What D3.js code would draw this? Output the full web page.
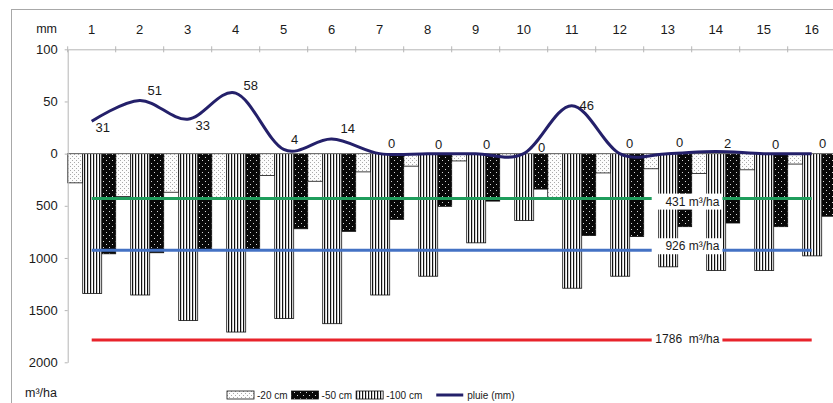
<!DOCTYPE html>
<html><head><meta charset="utf-8">
<script src="https://cdn.jsdelivr.net/npm/d3@7"></script>
<style>
body{margin:0;background:#fff}
svg{display:block}
text{font-family:"Liberation Sans",Arial,sans-serif;fill:#1a1a1a}
</style>
</head><body>
<svg id="c" width="833" height="403"></svg>
<script>
// ---- data ----
const categories = ["1","2","3","4","5","6","7","8","9","10","11","12","13","14","15","16"];
const rainMM  = [31, 51, 33, 58, 4, 14, 0, 0, 0, 0, 46, 0, 0, 2, 0, 0];
const loss20  = [280, 410, 370, 420, 210, 265, 175, 120, 70, 25, 420, 185, 145, 190, 155, 100];
const loss50  = [960, 950, 920, 920, 720, 745, 630, 505, 455, 340, 785, 795, 700, 665, 700, 600];
const loss100 = [1340, 1355, 1600, 1710, 1580, 1630, 1355, 1175, 855, 640, 1290, 1175, 1085, 1120, 1120, 980];
const leftTickValues = [100, 50, 0, -50, -100, -150, -200];
const leftTickLabels = ["100", "50", "0", "500", "1000", "1500", "2000"];
const thresholds = [431, 926, 1786];
const thresholdLabels = ["431 m³/ha", "926 m³/ha", "1786\u00a0\u00a0m³/ha"];
const seriesNames = ["-20 cm", "-50 cm", "-100 cm"];
const lineName = "pluie (mm)";

// ---- layout / style ----
const rainLabelOffset = [[11,6],[15,-10],[15,6],[15,-8],[11,-10],[16,-11],[12,-10],[11,-9],[11,-9],[18,-6],[15,0],[10,-10],[12,-11],[12,-8],[12,-9],[11,-10]];
const thresholdColors = ["#1f9d5c", "#4472c4", "#e8232b"];
const thresholdLabelDy = [3, -4, -1];
const barSlots = { "-20 cm": [0, 15/48], "-100 cm": [15/48, 19/48], "-50 cm": [34/48, 14/48] };
const seriesFill = { "-20 cm": "url(#pDot)", "-50 cm": "url(#pBlack)", "-100 cm": "url(#pStripe)" };
const seriesData = { "-20 cm": loss20, "-50 cm": loss50, "-100 cm": loss100 };

const svg = d3.select("#c");
const defs = svg.append("defs");
// patterns
const pd = defs.append("pattern").attr("id","pDot").attr("patternUnits","userSpaceOnUse").attr("width",4).attr("height",4);
pd.append("rect").attr("width",4).attr("height",4).attr("fill","#fdfdfd");
pd.append("rect").attr("x",0).attr("y",0).attr("width",1).attr("height",1).attr("fill","#aaaaaa");
pd.append("rect").attr("x",2).attr("y",2).attr("width",1).attr("height",1).attr("fill","#aaaaaa");
const pb = defs.append("pattern").attr("id","pBlack").attr("patternUnits","userSpaceOnUse").attr("width",6).attr("height",6);
pb.append("rect").attr("width",6).attr("height",6).attr("fill","#080808");
pb.append("rect").attr("x",1).attr("y",1).attr("width",1).attr("height",1).attr("fill","#d8d8d8");
pb.append("rect").attr("x",4).attr("y",4).attr("width",1).attr("height",1).attr("fill","#d8d8d8");
const ps = defs.append("pattern").attr("id","pStripe").attr("patternUnits","userSpaceOnUse").attr("width",3).attr("height",3);
ps.append("rect").attr("width",3).attr("height",3).attr("fill","#fff");
ps.append("rect").attr("x",0).attr("width",1.2).attr("height",3).attr("fill","#111");

// outer frame
svg.append("rect").attr("x",11.5).attr("y",9.5).attr("width",900).attr("height",500)
  .attr("fill","none").attr("stroke","#a8a8a8");

const x = d3.scaleBand().domain(categories).range([67.7, 835.7]).padding(0);
const bw = x.bandwidth();
const y = d3.scaleLinear().domain([100, -200]).range([49.3, 362.3]);
const yM3 = v => y(-v / 10);

// bars
const gBars = svg.append("g");
seriesNames.forEach(name => {
  const slot = barSlots[name];
  gBars.selectAll(null).data(seriesData[name]).enter().append("rect")
    .attr("x", (d,i) => x(categories[i]) + slot[0]*bw)
    .attr("width", slot[1]*bw)
    .attr("y", y(0))
    .attr("height", d => yM3(d) - y(0))
    .attr("fill", seriesFill[name])
    .attr("stroke", "#111").attr("stroke-width", 0.8);
});

// zero line
svg.append("line").attr("x1",67.7).attr("x2",835.7).attr("y1",y(0)).attr("y2",y(0))
  .attr("stroke","#777").attr("stroke-width",1);

// top axis
const topAxis = svg.append("g").attr("transform",`translate(0,${y(100)})`)
  .call(d3.axisTop(x).tickSize(0).tickPadding(15).tickSizeOuter(0));
topAxis.select(".domain").attr("stroke","#b5b5b5");
topAxis.selectAll("text").attr("font-size",13).attr("fill","#1a1a1a");
topAxis.selectAll(".bound").data(categories).enter().append("line").attr("class","bound")
  .attr("x1", d => x(d)).attr("x2", d => x(d)).attr("y1",-3).attr("y2",3).attr("stroke","#b5b5b5");

// left axis
const leftAxis = svg.append("g").attr("transform","translate(67.7,0)")
  .call(d3.axisLeft(y).tickValues(leftTickValues).tickFormat((d,i)=>leftTickLabels[i]).tickSize(3).tickPadding(7).tickSizeOuter(0));
leftAxis.select(".domain").attr("stroke","#b5b5b5");
leftAxis.selectAll(".tick line").attr("stroke","#b5b5b5");
leftAxis.selectAll("text").attr("font-size",13).attr("fill","#1a1a1a");

svg.append("text").attr("x",57).attr("y",33).attr("text-anchor","end").attr("font-size",12.5).text("mm");
svg.append("text").attr("x",57).attr("y",397).attr("text-anchor","end").attr("font-size",12.5).text("m³/ha");

// threshold lines
const x1 = x(categories[0]) + bw/2, x2 = x(categories[categories.length-1]) + bw/2;
const boxL = x(categories[12]) + bw/6, boxR = x(categories[13]) + bw*0.64;
thresholds.forEach((t,i) => {
  svg.append("line").attr("x1",x1).attr("x2",x2).attr("y1",yM3(t)).attr("y2",yM3(t))
    .attr("stroke",thresholdColors[i]).attr("stroke-width",3);
});
thresholds.forEach((t,i) => {
  const ty = yM3(t) + thresholdLabelDy[i];
  svg.append("rect").attr("x",boxL).attr("width",boxR-boxL).attr("y",ty-8).attr("height",16).attr("fill","#fff");
  svg.append("text").attr("x",boxR-3).attr("y",ty).attr("dy","0.35em").attr("text-anchor","end")
    .attr("font-size",12).text(thresholdLabels[i]);
});

// rain line
const cx = i => x(categories[i]) + bw/2;
svg.append("path").datum(rainMM)
  .attr("d", d3.line().x((d,i)=>cx(i)).y(d=>y(d)).curve(d3.curveCardinal.tension(0)))
  .attr("fill","none").attr("stroke","#24206a").attr("stroke-width",3);
svg.selectAll(".rl").data(rainMM).enter().append("text").attr("class","rl")
  .attr("x",(d,i)=>cx(i)+rainLabelOffset[i][0]).attr("y",(d,i)=>y(d)+rainLabelOffset[i][1])
  .attr("dy","0.35em").attr("text-anchor","middle").attr("font-size",13).text(d=>d);

// legend
const lg = svg.append("g").attr("transform","translate(227,391)");
let lx = 0;
seriesNames.forEach(name => {
  lg.append("rect").attr("x",lx).attr("y",0).attr("width",27).attr("height",8)
    .attr("fill",seriesFill[name]).attr("stroke","#111").attr("stroke-width",0.8);
  const t = lg.append("text").attr("x",lx+30).attr("y",4).attr("dy","0.35em").attr("font-size",10).text(name);
  lx += 30 + t.node().getComputedTextLength() + 4;
});
lx += 10;
lg.append("line").attr("x1",lx).attr("x2",lx+27).attr("y1",4).attr("y2",4).attr("stroke","#24206a").attr("stroke-width",3);
lg.append("text").attr("x",lx+31).attr("y",4).attr("dy","0.35em").attr("font-size",10).text(lineName);
</script>
</body></html>
